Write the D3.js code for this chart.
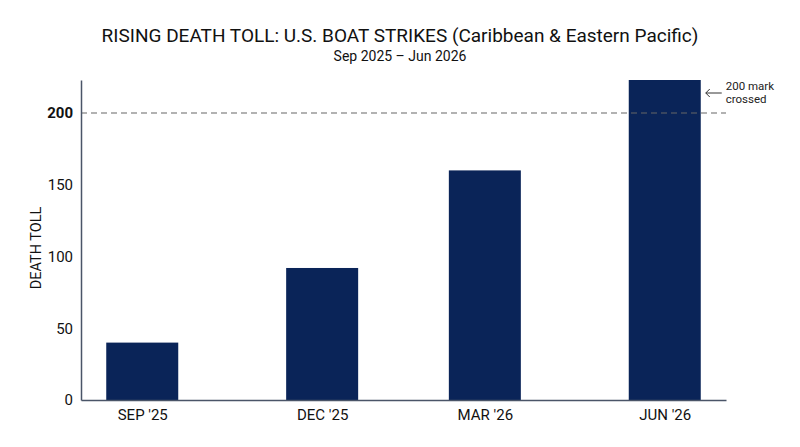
<!DOCTYPE html>
<html>
<head>
<meta charset="utf-8">
<script src="https://cdn.jsdelivr.net/npm/d3@7"></script>
<style>
  body { margin: 0; background: #fff; }
  text { font-family: Roboto, "Noto Sans", sans-serif; }
</style>
</head>
<body>
<div id="chart"></div>
<script>
// data
var labels = ["SEP '25", "DEC '25", "MAR '26", "JUN '26"];
var dates = ["2025-09-15", "2025-12-18", "2026-03-13", "2026-06-15"];
var deaths = [40, 92, 160, 223];
var yTicks = [0, 50, 100, 150, 200];
var markValue = 200;

var W = 800, H = 447;
var margin = {top: 80, right: 74, bottom: 47, left: 81},
    width = W - margin.left - margin.right,
    height = H - margin.top - margin.bottom;

var parse = d3.timeParse("%Y-%m-%d");
var data = labels.map(function(l, i) {
  return {label: l, date: parse(dates[i]), value: deaths[i]};
});

var svg = d3.select("#chart")
  .append("svg")
    .attr("width", W)
    .attr("height", H);

// titles
svg.append("text")
  .attr("x", W / 2).attr("y", 42)
  .attr("text-anchor", "middle")
  .style("font-size", "19px")
  .style("fill", "#111")
  .text("RISING DEATH TOLL: U.S. BOAT STRIKES (Caribbean & Eastern Pacific)");
svg.append("text")
  .attr("x", W / 2).attr("y", 61)
  .attr("text-anchor", "middle")
  .style("font-size", "14px")
  .style("fill", "#111")
  .text("Sep 2025 \u2013 Jun 2026");

var g = svg.append("g")
  .attr("transform", "translate(" + margin.left + "," + margin.top + ")");

// x: time scale, padded a month each side
var ext = d3.extent(data, function(d) { return d.date; });
var x = d3.scaleTime()
  .domain([d3.timeDay.offset(ext[0], -32), d3.timeDay.offset(ext[1], 32)])
  .range([0, width]);

var y = d3.scaleLinear()
  .domain([0, d3.max(deaths)])
  .range([height, 0]);

var barW = 72;

// bars
g.selectAll("rect.bar")
  .data(data)
  .enter()
  .append("rect")
    .attr("class", "bar")
    .attr("x", function(d) { return x(d.date) - barW / 2; })
    .attr("y", function(d) { return y(d.value); })
    .attr("width", barW)
    .attr("height", function(d) { return height - y(d.value); })
    .style("fill", "#0a2458");

// dashed 200 line
g.append("line")
  .attr("x1", 0).attr("x2", width)
  .attr("y1", y(markValue)).attr("y2", y(markValue))
  .style("stroke", "#666")
  .style("stroke-width", 1.2)
  .style("stroke-dasharray", "6,4");

// y axis
var yAxis = g.append("g")
  .call(d3.axisLeft(y).tickValues(yTicks).tickSize(0).tickPadding(8));
yAxis.select(".domain").style("stroke", "#4a5568").style("stroke-width", 1.5);
yAxis.selectAll("text")
  .style("font-size", "15px")
  .style("fill", "#111")
  .style("font-weight", function(d) { return d === markValue ? "bold" : "normal"; })
  .style("font-family", "Roboto, sans-serif");

// x axis
var xAxis = g.append("g")
  .attr("transform", "translate(0," + height + ")")
  .call(d3.axisBottom(x)
    .tickValues(data.map(function(d) { return d.date; }))
    .tickFormat(function(d, i) { return labels[i]; })
    .tickSize(0).tickPadding(9));
xAxis.select(".domain").style("stroke", "#4a5568").style("stroke-width", 1.5);
xAxis.selectAll("text")
  .style("font-size", "15px")
  .style("fill", "#111")
  .style("font-family", "Roboto, sans-serif");

// y label
g.append("text")
  .attr("transform", "rotate(-90)")
  .attr("x", -(height / 2) - 8)
  .attr("y", -40)
  .attr("text-anchor", "middle")
  .style("font-size", "14.5px")
  .style("fill", "#111")
  .text("DEATH TOLL");

// annotation
var last = data[data.length - 1];
var ax = x(last.date) + barW / 2;
g.append("line")
  .attr("x1", ax + 21).attr("x2", ax + 5)
  .attr("y1", y(markValue) - 20).attr("y2", y(markValue) - 20)
  .style("stroke", "#333")
  .style("stroke-width", 1);
g.append("path")
  .attr("d", "M" + (ax + 9) + "," + (y(markValue) - 24) + " L" + (ax + 5) + "," + (y(markValue) - 20) + " L" + (ax + 9) + "," + (y(markValue) - 16))
  .style("fill", "none")
  .style("stroke", "#333")
  .style("stroke-width", 1);
var ann = g.append("text")
  .attr("x", ax + 25)
  .attr("y", y(markValue) - 23)
  .style("font-size", "11.5px")
  .style("fill", "#222");
ann.append("tspan").attr("x", ax + 25).text("200 mark");
ann.append("tspan").attr("x", ax + 25).attr("dy", "1.1em").text("crossed");
</script>
</body>
</html>
